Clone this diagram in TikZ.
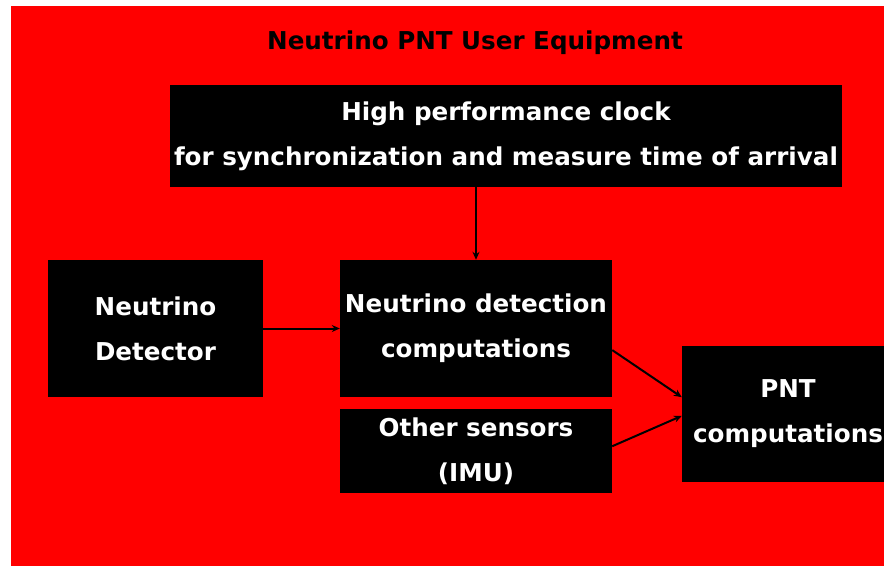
\documentclass[tikz,border=0pt]{standalone}
\usepackage{fontspec}
\setmainfont{DejaVu Sans}
\usepackage{tikz}
\usetikzlibrary{positioning}
\usetikzlibrary{arrows.meta}
\definecolor{bgred}{RGB}{255,0,0}

\tikzset{
  blk/.style={shape=rectangle,fill=black,text=white,align=center,inner sep=0pt,
    font=\bfseries\fontsize{24.6}{45}\selectfont},
  link/.style={-{Stealth[length=8pt,width=7pt]},line width=2pt,black}
}

\begin{document}
\begin{tikzpicture}[x=1pt,y=-1pt]
\useasboundingbox (0,0) rectangle (884,566);
\clip (0,0) rectangle (884,566);
\fill [bgred] (11,6) rectangle (884,566);
\path
(475,43) node [font=\bfseries\fontsize{24.6}{28}\selectfont](title) {Neutrino PNT User Equipment}
(506,136) node [blk,minimum width=672pt,minimum height=102pt](clock) {High performance clock\\for synchronization and measure time of arrival}
(155.5,328.5) node [blk,minimum width=215pt,minimum height=137pt](det) {Neutrino\\Detector}
(476,328.5) node [blk,minimum width=272pt,minimum height=137pt](comp) {Neutrino detection\\computations}
(476,451) node [blk,minimum width=272pt,minimum height=84pt](imu) {Other sensors\\(IMU)}
(788,414) node [blk,minimum width=212pt,minimum height=136pt](pnt) {PNT\\computations};
\draw [link](clock.south -| comp.north) --(comp.north);
\draw [link](det.east) --(comp.west);
\draw [link](comp.-9) --(pnt.171);
\draw [link](imu.2) --(pnt.181);

\end{tikzpicture}
\end{document}
